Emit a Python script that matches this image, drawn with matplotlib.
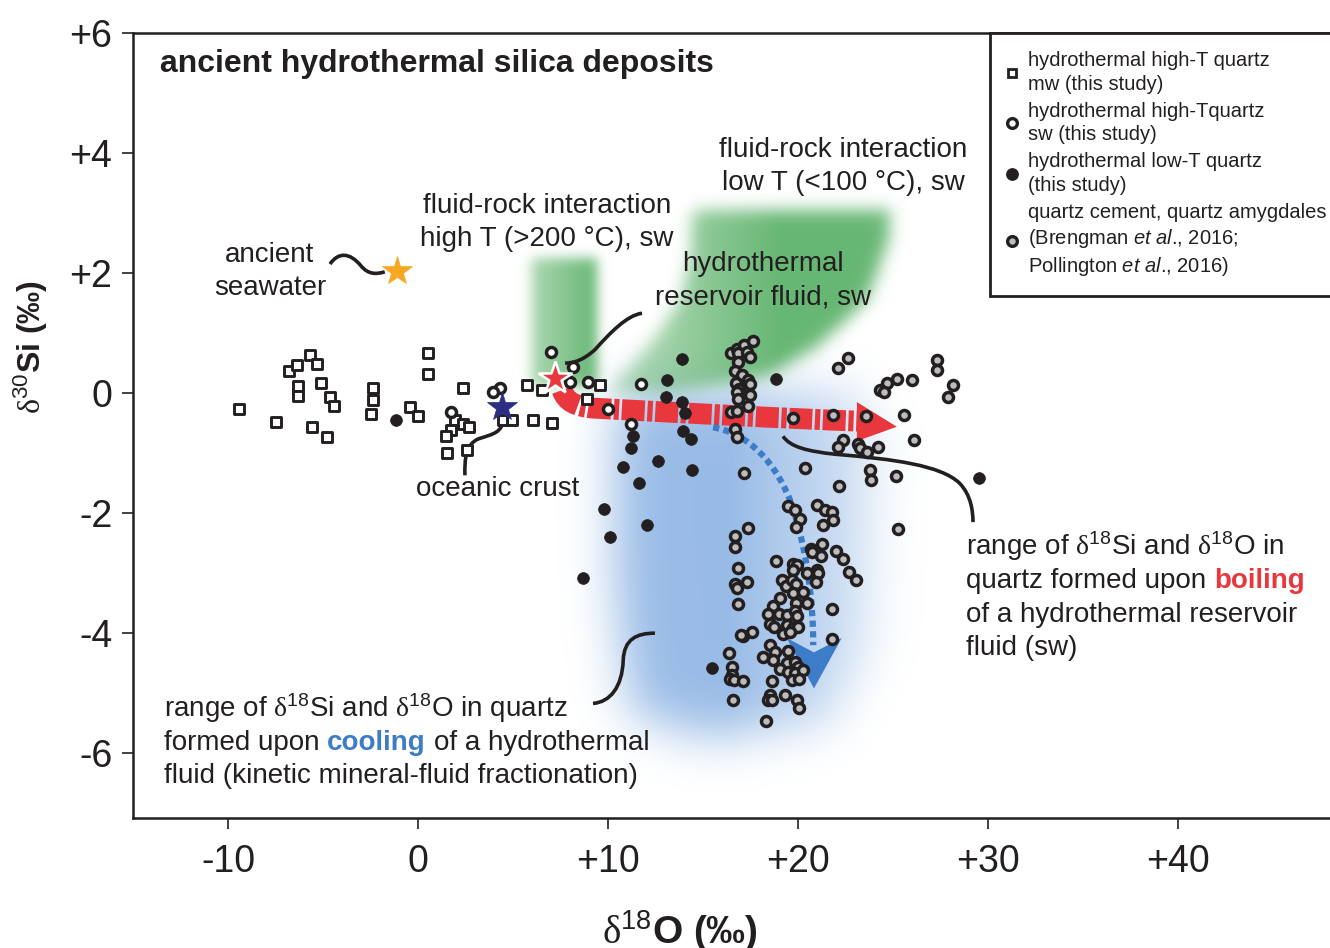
import numpy as np
import matplotlib
matplotlib.use('Agg')
import matplotlib.pyplot as plt
from matplotlib.path import Path
from matplotlib.patches import PathPatch, Polygon
from matplotlib.lines import Line2D

plt.rcParams['font.family'] = ['Liberation Sans', 'DejaVu Sans']
plt.rcParams['mathtext.fontset'] = 'custom'
plt.rcParams['mathtext.rm'] = 'Liberation Sans'
plt.rcParams['mathtext.it'] = 'Liberation Sans:italic'
plt.rcParams['mathtext.bf'] = 'Liberation Sans:bold'
plt.rcParams['mathtext.sf'] = 'Liberation Serif'

INK = '#231f20'
RED = '#e8383d'
BLUE = '#3d7cc9'
CEM_FACE = '#bdbdbd'

# ---------------- data ----------------
# hydrothermal high-T quartz, mw (open squares)
mw_x = [-9.4, -7.47, -6.77, -6.39, -5.68, -5.33, -6.3, -6.3, -5.12, -4.63, -4.4, -5.6,
        -4.8, -2.35, -2.35, -2.47, -0.42, 0.02, 0.54, 0.54, 2.35, 1.95, 2.39, 2.7,
        1.72, 1.47, 1.51, 2.56, 4.49, 4.93, 6.07, 5.72, 6.51, 7.04, 9.58, 8.88]
mw_y = [-0.27, -0.48, 0.36, 0.47, 0.63, 0.49, 0.12, -0.05, 0.16, -0.06, -0.22, -0.57,
        -0.73, 0.09, -0.12, -0.34, -0.23, -0.38, 0.67, 0.31, 0.09, -0.44, -0.52, -0.57,
        -0.62, -0.72, -1.0, -0.94, -0.44, -0.44, -0.44, 0.13, 0.05, -0.49, 0.13, -0.09]

# hydrothermal high-T quartz, sw (open circles)
sw_x = [4.32, 3.93, 1.72, 6.98, 8.18, 8.0, 8.96, 11.72, 10.02, 11.19]
sw_y = [0.09, 0.01, -0.31, 0.68, 0.44, 0.18, 0.19, 0.15, -0.27, -0.52]

# hydrothermal low-T quartz (filled circles)
lowT_x = [-1.16, 13.91, 13.09, 13.04, 13.91, 14.05, 13.96, 14.35, 11.3, 11.21, 10.77,
          12.65, 14.4, 11.63, 9.79, 12.07, 18.83, 10.1, 8.68, 15.47, 29.5]
lowT_y = [-0.45, 0.56, 0.21, -0.06, -0.14, -0.33, -0.63, -0.77, -0.72, -0.91, -1.23,
          -1.13, -1.28, -1.49, -1.93, -2.2, 0.24, -2.4, -3.08, -4.58, -1.42]

# quartz cement / amygdales (Brengman et al. 2016; Pollington et al. 2016)
cem_x = [16.46, 16.81, 17.16, 17.65, 16.86, 17.3, 17.47, 16.86, 16.68, 17.04, 17.38, 17.47,
         16.74, 16.91, 16.77, 17.47, 16.86, 17.38, 16.46, 16.77, 16.68, 16.81, 17.16,
         19.72, 20.37, 21.86, 22.12, 22.65, 23.56, 25.58, 26.1, 24.23, 25.19, 25.98, 24.67,
         24.32, 24.53, 27.3, 27.3, 28.14, 27.91, 22.39, 22.12, 23.17, 23.26, 23.61, 23.79,
         23.83, 25.14, 22.17, 25.25,
         19.49, 19.84, 20.11, 21.02, 21.42, 21.77, 21.86, 21.3, 19.89, 17.35, 16.68, 16.68,
         18.84, 19.75, 19.96, 19.72, 20.67, 20.72, 21.28, 21.19, 22.0, 22.35, 22.7, 23.05,
         20.49, 21.02, 21.07, 20.95, 16.86, 16.68, 16.81, 17.33, 16.86, 19.14, 19.37, 19.67,
         19.89, 19.05, 19.72, 20.28, 20.46, 18.7, 18.44, 19.02, 19.4, 19.89, 19.84, 19.96,
         18.53, 18.74, 19.4, 19.75, 20.02, 19.19, 19.58, 21.77, 17.56, 17.12, 17.0, 16.39,
         18.53, 18.79, 18.14, 18.67, 19.49, 21.77, 19.4, 19.05, 19.84, 20.02, 19.49, 19.84,
         20.25, 19.67, 20.07, 16.51, 16.51, 16.42, 16.63, 17.12, 18.61, 16.6, 18.53, 18.44,
         18.61, 19.32, 19.96, 20.07, 18.32]
cem_y = [0.67, 0.74, 0.8, 0.86, 0.66, 0.69, 0.6, 0.51, 0.36, 0.3, 0.22, 0.15,
         0.16, 0.06, 0.02, -0.03, -0.09, -0.22, -0.31, -0.3, -0.6, -0.73, -1.33,
         -0.42, -1.24, -0.37, 0.41, 0.59, -0.38, -0.37, -0.78, -0.89, 0.23, 0.21, 0.16,
         0.05, 0.02, 0.55, 0.38, 0.13, -0.07, -0.78, -0.89, -0.84, -0.92, -0.98, -1.28,
         -1.45, -1.38, -1.55, -2.26,
         -1.88, -1.95, -2.1, -1.87, -1.95, -1.98, -2.12, -2.19, -2.23, -2.24, -2.38, -2.57,
         -2.79, -2.85, -2.87, -2.94, -2.59, -2.65, -2.51, -2.72, -2.63, -2.77, -2.98, -3.12,
         -2.99, -2.94, -3.0, -3.14, -2.91, -3.18, -3.24, -3.14, -3.52, -3.11, -3.22, -3.11,
         -3.18, -3.41, -3.33, -3.31, -3.49, -3.55, -3.68, -3.68, -3.7, -3.49, -3.63, -3.72,
         -3.84, -3.9, -3.87, -3.92, -3.9, -4.01, -3.98, -3.59, -3.98, -4.05, -4.03, -4.33,
         -4.2, -4.31, -4.39, -4.45, -4.29, -4.09, -4.49, -4.59, -4.48, -4.56, -4.64, -4.67,
         -4.62, -4.78, -4.76, -4.56, -4.7, -4.77, -4.78, -4.79, -4.79, -5.12, -5.03, -5.12,
         -5.12, -5.03, -5.12, -5.24, -5.46]

# end-member stars: ancient seawater, hydrothermal reservoir fluid, oceanic crust
star_x = [-1.1, 7.21, 4.42]
star_y = [2.03, 0.25, -0.23]
star_col = ['#f7a823', RED, '#2b2e83']

x_ticks = [-10, 0, 10, 20, 30, 40]
x_ticklabels = ['-10', '0', '+10', '+20', '+30', '+40']
y_ticks = [-6, -4, -2, 0, 2, 4, 6]
y_ticklabels = ['-6', '-4', '-2', '0', '+2', '+4', '+6']

XMIN, XMAX, YMIN, YMAX = -15, 50, -7.08, 6

# ---------------- figure ----------------
fig = plt.figure(figsize=(13.3, 9.48), dpi=100)
# the frame runs past the right edge of the picture, as in the original
ax = fig.add_axes([0.1, 0.1371, 0.9286, 0.8281])


def blur(a, sigma_cells):
    r = int(3 * sigma_cells) + 1
    k = np.exp(-0.5 * (np.arange(-r, r + 1) / sigma_cells) ** 2)
    k /= k.sum()
    a = np.apply_along_axis(lambda m: np.convolve(m, k, mode='same'), 0, a)
    a = np.apply_along_axis(lambda m: np.convolve(m, k, mode='same'), 1, a)
    return a


# grid with ~2 px cells (19 px per x unit, 60 px per y unit)
nx, ny = 618, 393
gx = np.linspace(XMIN, XMAX, nx)
gy = np.linspace(YMIN, YMAX, ny)
GX, GY = np.meshgrid(gx, gy)
pts = np.column_stack([GX.ravel(), GY.ravel()])


def poly_mask(verts):
    return Path(verts).contains_points(pts).reshape(ny, nx).astype(float)


# blue field (cooling)
blue_poly = [(10.6, 0.0), (23.5, 0.0), (24.4, -0.95), (24.0, -4.2), (21.8, -5.5),
             (15.0, -5.75), (11.2, -5.35), (10.4, -3.45), (10.3, -0.95)]
blue_a = blur(poly_mask(blue_poly), 12) * np.clip(1.2 - (GX - 14) / 12, 0.3, 1.0)
blue_a = np.clip(blue_a, 0, 1) * 0.6
blue_img = np.zeros((ny, nx, 4))
blue_img[..., :3] = (0.33, 0.56, 0.84)
blue_img[..., 3] = blue_a
ax.imshow(blue_img, extent=[XMIN, XMAX, YMIN, YMAX], origin='lower', aspect='auto',
          interpolation='bilinear', zorder=0.5)

# green fields (fluid-rock interaction)
band_poly = [(5.9, 2.25), (9.35, 2.25), (9.35, 0.1), (5.9, 0.1)]
big_poly = [(14.42, 3.05), (24.84, 3.05), (24.74, 2.55), (23.63, 1.55), (21.0, 0.77),
            (18.37, 0.27), (13.1, 0.0), (10.1, 0.02), (11.0, 0.38), (12.37, 0.88),
            (13.79, 1.55), (14.32, 2.27)]
band_a = blur(poly_mask(band_poly), 3) * np.clip(0.55 + 0.45 * (GX - 5.9) / 3.4, 0, 1)
big_a = blur(poly_mask(big_poly), 4) * np.clip(0.5 + 0.5 * (GX - 11) / 8, 0.5, 1)
green_a = np.clip(np.maximum(band_a, big_a), 0, 1) * 0.85
green_img = np.zeros((ny, nx, 4))
green_img[..., :3] = (0.30, 0.67, 0.36)
green_img[..., 3] = green_a
ax.imshow(green_img, extent=[XMIN, XMAX, YMIN, YMAX], origin='lower', aspect='auto',
          interpolation='bilinear', zorder=0.6)


def curve(points):
    codes = [Path.MOVETO] + [Path.CURVE4] * (len(points) - 1)
    return Path(points, codes)


# boiling arrow (red, dash-dot)
red_path = curve([(7.58, 0.05), (7.8, -0.15), (8.3, -0.22), (9.2, -0.25),
                  (14.0, -0.33), (19.0, -0.42), (23.4, -0.47)])
ax.add_patch(PathPatch(red_path, fill=False, edgecolor=RED, lw=15, capstyle='butt',
                       linestyle=(0, (1.1, 0.13, 0.25, 0.13)), zorder=2))
ax.add_patch(Polygon([(23.1, -0.15), (25.2, -0.56), (23.1, -0.8)], closed=True,
                     facecolor=RED, edgecolor='none', zorder=2))

# cooling arrow (blue, dotted)
blue_path = curve([(15.53, -0.57), (17.0, -0.65), (18.6, -1.0), (19.6, -1.8),
                   (20.5, -2.6), (20.8, -3.5), (20.8, -4.2)])
ax.add_patch(PathPatch(blue_path, fill=False, edgecolor=BLUE, lw=4.5, capstyle='butt',
                       linestyle=(0, (1.0, 0.7)), zorder=2))
ax.add_patch(Polygon([(19.4, -4.08), (20.84, -4.32), (22.3, -4.08), (20.84, -4.92)],
                     closed=True, facecolor=BLUE, edgecolor='none', zorder=2))

# leader lines
leaders = [
    [(-4.63, 2.15), (-4.2, 2.35), (-3.6, 2.35), (-3.0, 2.12), (-2.6, 1.97), (-2.2, 1.98), (-1.75, 2.02)],
    [(11.79, 1.33), (11.0, 1.3), (10.1, 1.0), (9.3, 0.72), (8.7, 0.55), (8.2, 0.5), (7.74, 0.5)],
    [(2.47, -1.37), (2.45, -1.1), (2.5, -0.85), (3.2, -0.76), (4.0, -0.68), (4.45, -0.65), (4.47, -0.43)],
    [(19.21, -0.72), (19.6, -0.9), (20.5, -0.97), (22.0, -1.02), (25.0, -1.1), (27.5, -1.2),
     (28.5, -1.5), (29.1, -1.7), (29.2, -1.95), (29.21, -2.15)],
    [(9.21, -5.17), (10.1, -5.15), (10.75, -4.9), (10.8, -4.45), (10.85, -4.1), (11.5, -4.0), (12.47, -4.0)],
]
for pl in leaders:
    ax.add_patch(PathPatch(curve(pl), fill=False, edgecolor=INK, lw=2.6,
                           capstyle='butt', zorder=2.5))

# data points
ax.scatter(mw_x, mw_y, marker='s', s=42, facecolor='white', edgecolor=INK, linewidth=2.1, zorder=3)
ax.scatter(cem_x, cem_y, marker='o', s=52, facecolor=CEM_FACE, edgecolor=INK, linewidth=2.5, zorder=3)
ax.scatter(sw_x, sw_y, marker='o', s=52, facecolor='white', edgecolor=INK, linewidth=2.5, zorder=3.1)
ax.scatter(lowT_x, lowT_y, marker='o', s=72, facecolor=INK, edgecolor=INK, linewidth=0.5, zorder=3.2)

for sx, sy, sc in zip(star_x, star_y, star_col):
    is_red = sc == RED
    ax.plot(sx, sy, marker='*', ms=25 if is_red else 22, mfc=sc,
            mec='white' if is_red else sc, mew=1.8 if is_red else 0.5, zorder=4)

# axes styling
ax.set_xlim(XMIN, XMAX)
ax.set_ylim(YMIN, YMAX)
ax.set_xticks(x_ticks)
ax.set_xticklabels(x_ticklabels)
ax.set_yticks(y_ticks)
ax.set_yticklabels(y_ticklabels)
ax.tick_params(axis='both', direction='out', length=8, width=1.2, colors=INK,
               labelsize=27)
ax.tick_params(axis='x', pad=11)
ax.tick_params(axis='y', pad=7)
for sp in ax.spines.values():
    sp.set_linewidth(1.8)
    sp.set_color(INK)

ax.set_xlabel(r'$\mathsf{\delta}^{18}$O (‰)', fontsize=28, fontweight='bold', color=INK)
ax.xaxis.set_label_coords(0.443, -0.115)
ax.set_ylabel(r'$\mathsf{\delta}^{30}$Si (‰)', fontsize=23, fontweight='bold', color=INK)
ax.yaxis.set_label_coords(-0.067, 0.6)

# annotations
FS = 20
ax.text(-13.58, 5.48, 'ancient hydrothermal silica deposits', fontsize=23,
        fontweight='bold', color=INK, ha='left', va='center')
ax.text(-7.79, 2.02, 'ancient\nseawater', fontsize=FS, color=INK, ha='center',
        va='center', linespacing=1.35)
ax.text(6.79, 2.85, 'fluid-rock interaction\nhigh T (>200 °C), sw', fontsize=FS,
        color=INK, ha='center', va='center', linespacing=1.35)
ax.text(22.37, 3.78, 'fluid-rock interaction\nlow T (<100 °C), sw', fontsize=FS,
        color=INK, ha='center', va='center', linespacing=1.35)
ax.text(18.16, 1.87, 'hydrothermal\nreservoir fluid, sw', fontsize=FS, color=INK,
        ha='center', va='center', linespacing=1.35)
ax.text(4.21, -1.6, 'oceanic crust', fontsize=FS, color=INK, ha='center', va='center')

SPACE = 0.278 * FS


def rich_line(x, y, parts):
    txt, kw = parts[0]
    t = ax.text(x, y, txt, fontsize=FS, ha='left', va='baseline', color=INK, **kw)
    for txt, kw in parts[1:]:
        t = ax.annotate(txt, xy=(1, 0), xycoords=t, xytext=(SPACE, 0),
                        textcoords='offset points', ha='left', va='bottom',
                        fontsize=FS, **kw)
    return t


plain = dict(color=INK)
rich_line(28.84, -2.7, [(r'range of $\mathsf{\delta}^{18}$Si and $\mathsf{\delta}^{18}$O in', {})])
rich_line(28.84, -3.25, [('quartz formed upon', {}),
                         ('boiling', dict(color=RED, fontweight='bold'))])
rich_line(28.84, -3.82, [('of a hydrothermal reservoir', {})])
rich_line(28.84, -4.37, [('fluid (sw)', {})])

rich_line(-13.37, -5.39, [(r'range of $\mathsf{\delta}^{18}$Si and $\mathsf{\delta}^{18}$O in quartz', {})])
rich_line(-13.37, -5.95, [('formed upon', {}),
                          ('cooling', dict(color=BLUE, fontweight='bold')),
                          ('of a hydrothermal', plain)])
rich_line(-13.37, -6.5, [('fluid (kinetic mineral-fluid fractionation)', {})])

# legend
handles = [
    Line2D([], [], ls='none', marker='s', ms=6.3, mfc='white', mec=INK, mew=2.0),
    Line2D([], [], ls='none', marker='o', ms=7.0, mfc='white', mec=INK, mew=2.4),
    Line2D([], [], ls='none', marker='o', ms=8.2, mfc=INK, mec=INK),
    Line2D([], [], ls='none', marker='o', ms=7.0, mfc=CEM_FACE, mec=INK, mew=2.4),
]
labels = [
    'hydrothermal high-T quartz\nmw (this study)',
    'hydrothermal high-Tquartz\nsw (this study)',
    'hydrothermal low-T quartz\n(this study)',
    'quartz cement, quartz amygdales\n(Brengman $\\it{et\\ al}$., 2016;\nPollington $\\it{et\\ al}$., 2016)',
]
leg = fig.legend(handles, labels, loc='upper left', bbox_to_anchor=(990 / 1330, 1 - 33 / 948),
                 bbox_transform=fig.transFigure, fontsize=14.5, frameon=True,
                 fancybox=False, framealpha=1, edgecolor=INK, borderpad=0.9,
                 handlelength=0.4, handletextpad=0.6, labelspacing=0.4,
                 borderaxespad=0)
leg.get_frame().set_linewidth(2)
for t in leg.get_texts():
    t.set_linespacing(1.3)
    t.set_color(INK)

fig.savefig('out.png', dpi=100)
